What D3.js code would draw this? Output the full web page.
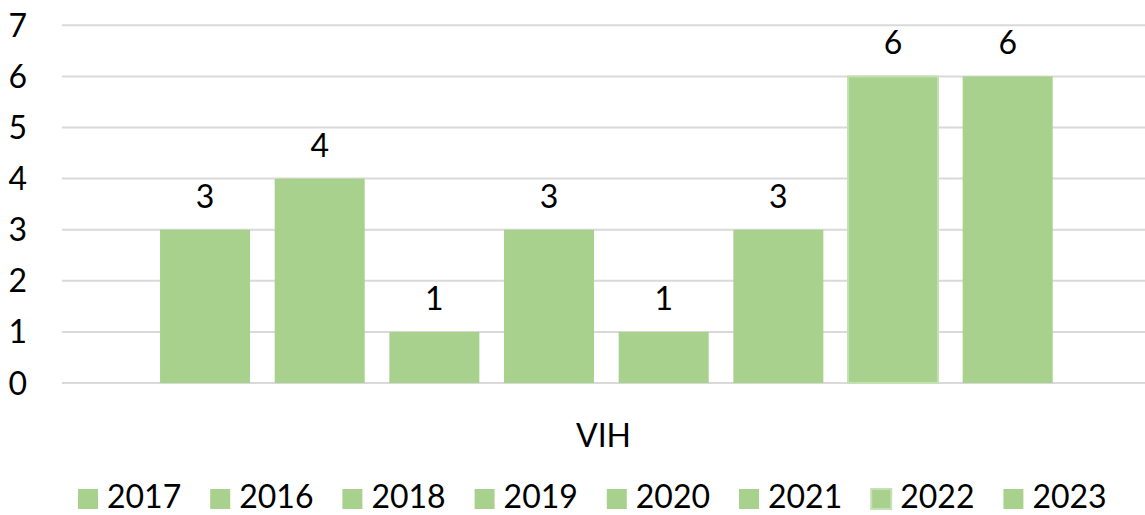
<!DOCTYPE html>
<html>
<head>
<meta charset="utf-8">
<script src="https://cdn.jsdelivr.net/npm/d3@7"></script>
<style>
  body { margin: 0; background: #fff; }
  text { font-family: Lato, "Open Sans", sans-serif; fill: #000; }
</style>
</head>
<body>
<div id="chart"></div>
<script>
(function(){
    var width = 1145,
        height = 515;

    // data
    var category = "VIH";
    var years = ["2017", "2016", "2018", "2019", "2020", "2021", "2022", "2023"];
    var counts = [3, 4, 1, 3, 1, 3, 6, 6];
    var yTicks = [0, 1, 2, 3, 4, 5, 6, 7];

    var barColor = "#a9d18e";
    var fontSize = 32;

    var svg = d3.select("#chart")
        .append("svg")
        .attr("width", width)
        .attr("height", height);

    var plotLeft = 62, plotRight = 1145, plotTop = 25.3, plotBottom = 383;

    var y = d3.scaleLinear().domain([0, 7]).range([plotBottom, plotTop]);

    var x0 = d3.scaleBand().domain([category]).range([plotLeft, plotRight]);

    var x1 = d3.scaleBand().domain(years)
        .range([x0(category), x0(category) + x0.bandwidth()])
        .paddingInner(0.215)
        .paddingOuter(0.83)
        .align(0.515);

    // gridlines
    svg.append("g")
        .selectAll("line")
        .data(yTicks)
        .enter().append("line")
        .attr("x1", plotLeft)
        .attr("x2", plotRight)
        .attr("y1", function(d){ return y(d) })
        .attr("y2", function(d){ return y(d) })
        .attr("stroke", "#d9d9d9")
        .attr("stroke-width", 2);

    // y labels
    svg.append("g")
        .selectAll("text")
        .data(yTicks)
        .enter().append("text")
        .attr("x", 27)
        .attr("y", function(d){ return y(d) })
        .attr("dy", "0.36em")
        .attr("text-anchor", "end")
        .style("font-size", fontSize + "px")
        .text(function(d){ return d });

    var rows = years.map(function(yr, i){ return { year: yr, value: counts[i] } });

    // bars
    svg.append("g")
        .selectAll("rect")
        .data(rows)
        .enter().append("rect")
        .attr("x", function(d){ return x1(d.year) })
        .attr("y", function(d){ return y(d.value) })
        .attr("width", x1.bandwidth())
        .attr("height", function(d){ return y(0) - y(d.value) })
        .attr("fill", barColor)
        .attr("stroke", function(d){ return d.year === "2022" ? "#c5e0b4" : "none" })
        .attr("stroke-width", 2);

    // value labels
    svg.append("g")
        .selectAll("text")
        .data(rows)
        .enter().append("text")
        .attr("x", function(d){ return x1(d.year) + x1.bandwidth() / 2 })
        .attr("y", function(d){ return y(d.value) - 22 })
        .attr("text-anchor", "middle")
        .style("font-size", fontSize + "px")
        .text(function(d){ return d.value });

    // category label
    svg.append("text")
        .attr("x", x0(category) + x0.bandwidth() / 2)
        .attr("y", 447)
        .attr("text-anchor", "middle")
        .style("font-size", fontSize + "px")
        .text(category);

    // legend
    var legendStep = 132.2;
    var legend = svg.append("g")
        .selectAll("g")
        .data(years)
        .enter().append("g")
        .attr("transform", function(d, i){ return "translate(" + (78 + i * legendStep) + ",0)" });

    legend.append("rect")
        .attr("x", 0)
        .attr("y", 489)
        .attr("width", 20)
        .attr("height", 20)
        .attr("fill", barColor)
        .attr("stroke", function(d){ return d === "2022" ? "#c5e0b4" : "none" })
        .attr("stroke-width", 2);

    legend.append("text")
        .attr("x", 29)
        .attr("y", 508)
        .style("font-size", fontSize + "px")
        .text(function(d){ return d });
})();
</script>
</body>
</html>
